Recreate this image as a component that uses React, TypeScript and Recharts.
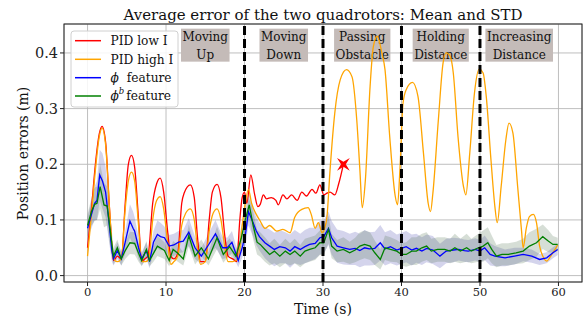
import React from "react";
import {
  ComposedChart,
  Line,
  Area,
  Scatter,
  XAxis,
  YAxis,
  CartesianGrid,
  ReferenceLine,
  ReferenceDot,
  Customized,
} from "recharts";

const FONT = '"DejaVu Serif", serif';

// [time (s), error (m)]
const PID_LOW_I: [number, number][] = [
  [0, 0.05], [0.5, 0.12], [1.0, 0.2], [1.5, 0.255], [1.85, 0.268], [2.3, 0.24], [2.8, 0.12],
  [3.3, 0.027], [3.8, 0.035], [4.3, 0.03], [4.8, 0.13], [5.2, 0.2], [5.6, 0.216], [6.0, 0.195],
  [6.5, 0.1], [6.9, 0.026], [7.3, 0.03], [7.7, 0.035], [8.3, 0.13], [8.8, 0.165], [9.25, 0.175],
  [9.7, 0.15], [10.2, 0.08], [10.6, 0.035], [11.0, 0.03], [11.5, 0.04], [12.0, 0.13], [12.3, 0.148],
  [13.1, 0.163], [13.6, 0.14], [14.0, 0.07], [14.4, 0.025], [15.0, 0.025], [15.5, 0.1], [15.9, 0.15],
  [16.5, 0.164], [17.0, 0.14], [17.5, 0.07], [17.9, 0.035], [18.5, 0.03], [19.0, 0.025], [19.4, 0.1],
  [19.7, 0.14], [20.0, 0.15], [20.3, 0.13], [20.8, 0.181], [21.3, 0.145], [21.7, 0.124], [22.0, 0.128],
  [22.4, 0.145], [22.8, 0.138], [23.4, 0.14], [24.0, 0.135], [24.3, 0.127], [24.9, 0.145], [25.4, 0.138],
  [26.0, 0.145], [26.7, 0.135], [27.3, 0.15], [27.9, 0.143], [28.6, 0.155], [29.1, 0.148], [29.6, 0.163],
  [30.1, 0.145], [30.5, 0.148], [30.9, 0.15], [31.5, 0.145], [32.0, 0.165], [32.6, 0.2],
];

const PID_HIGH_I: [number, number][] = [
  [0, 0.035], [0.5, 0.11], [1.0, 0.19], [1.5, 0.25], [1.85, 0.265], [2.3, 0.235], [2.8, 0.12],
  [3.3, 0.03], [3.8, 0.025], [4.3, 0.03], [4.8, 0.12], [5.2, 0.17], [5.6, 0.186], [6.0, 0.17],
  [6.5, 0.09], [6.9, 0.025], [7.4, 0.025], [7.8, 0.03], [8.3, 0.1], [8.8, 0.135], [9.25, 0.142],
  [9.7, 0.12], [10.2, 0.06], [10.6, 0.02], [11.0, 0.025], [11.5, 0.035], [12.0, 0.09], [12.5, 0.112],
  [13.1, 0.12], [13.6, 0.1], [14.0, 0.05], [14.4, 0.02], [15.0, 0.025], [15.5, 0.08], [16.0, 0.112],
  [16.5, 0.12], [17.0, 0.1], [17.5, 0.05], [17.9, 0.025], [18.5, 0.025], [19.2, 0.03], [19.7, 0.09],
  [20.0, 0.12], [20.5, 0.155], [20.9, 0.13], [21.5, 0.11], [22.0, 0.098], [22.6, 0.085], [23.2, 0.09],
  [24.1, 0.08], [24.9, 0.083], [25.8, 0.077], [26.4, 0.105], [27.3, 0.119], [28.1, 0.122], [28.5, 0.11],
  [29.0, 0.085], [29.4, 0.095], [29.9, 0.077], [30.2, 0.085], [30.5, 0.105], [30.9, 0.19], [31.5, 0.292],
  [32.2, 0.352], [33.0, 0.37], [33.7, 0.357], [34.3, 0.28], [34.7, 0.19], [35.0, 0.122], [35.4, 0.172],
  [36.0, 0.34], [36.4, 0.41], [36.9, 0.43], [37.5, 0.4], [37.9, 0.37], [38.5, 0.25], [39.2, 0.143],
  [39.5, 0.127], [39.8, 0.19], [40.2, 0.31], [40.6, 0.334], [41.4, 0.347], [42.1, 0.322], [42.8, 0.22],
  [43.4, 0.13], [43.7, 0.115], [44.0, 0.148], [44.7, 0.28], [45.3, 0.382], [45.7, 0.4], [46.2, 0.394],
  [46.6, 0.364], [47.2, 0.25], [47.9, 0.16], [48.2, 0.145], [48.7, 0.22], [49.3, 0.328], [49.9, 0.371],
  [50.4, 0.364], [50.8, 0.322], [51.4, 0.208], [51.9, 0.124], [52.2, 0.095], [52.7, 0.16], [53.3, 0.244],
  [53.7, 0.274], [54.2, 0.256], [54.8, 0.16], [55.3, 0.08], [55.5, 0.05], [55.9, 0.085], [56.3, 0.106],
  [56.8, 0.11], [57.2, 0.095], [57.6, 0.053], [58.0, 0.035], [58.5, 0.026], [59.1, 0.037], [59.9, 0.055],
];

// [time (s), mean (m), std (m)]
const PHI_FEATURE: [number, number, number][] = [
  [0, 0.085, 0.02], [0.5, 0.11, 0.025], [0.9, 0.13, 0.03], [1.2, 0.135, 0.035], [1.55, 0.181, 0.045],
  [1.9, 0.17, 0.05], [2.3, 0.15, 0.045], [2.7, 0.1, 0.035], [3.1, 0.045, 0.02], [3.3, 0.03, 0.012],
  [3.8, 0.045, 0.015], [4.3, 0.03, 0.012], [4.8, 0.06, 0.02], [5.4, 0.098, 0.03], [5.8, 0.085, 0.03],
  [6.0, 0.08, 0.025], [6.5, 0.05, 0.02], [6.9, 0.03, 0.012], [7.5, 0.045, 0.015], [7.9, 0.025, 0.012],
  [8.4, 0.06, 0.02], [8.9, 0.074, 0.025], [9.3, 0.07, 0.025], [9.8, 0.068, 0.02], [10.4, 0.053, 0.02],
  [11.0, 0.055, 0.02], [11.6, 0.06, 0.02], [12.2, 0.062, 0.02], [12.9, 0.078, 0.025], [13.7, 0.05, 0.02],
  [14.5, 0.035, 0.015], [15.4, 0.055, 0.02], [16.3, 0.075, 0.025], [17.2, 0.05, 0.02], [17.8, 0.05, 0.018],
  [18.4, 0.06, 0.02], [19.2, 0.027, 0.012], [19.7, 0.05, 0.018], [20.1, 0.072, 0.02], [20.5, 0.115, 0.025],
  [21.1, 0.095, 0.025], [21.5, 0.08, 0.025], [21.9, 0.07, 0.025], [22.6, 0.059, 0.028], [23.2, 0.053, 0.03],
  [23.8, 0.047, 0.03], [24.5, 0.052, 0.03], [25.2, 0.05, 0.028], [25.8, 0.044, 0.03], [26.4, 0.052, 0.03],
  [27.1, 0.047, 0.028], [27.7, 0.052, 0.03], [28.3, 0.056, 0.03], [29.0, 0.058, 0.028], [29.6, 0.068, 0.03],
  [30.1, 0.07, 0.03], [30.7, 0.085, 0.03], [31.1, 0.068, 0.03], [31.8, 0.053, 0.03], [32.6, 0.05, 0.03],
  [33.4, 0.047, 0.028], [34.1, 0.049, 0.03], [34.7, 0.045, 0.03], [35.3, 0.05, 0.032], [35.9, 0.048, 0.03],
  [36.6, 0.049, 0.03], [37.3, 0.059, 0.032], [37.9, 0.048, 0.03], [38.6, 0.052, 0.03], [39.4, 0.046, 0.028],
  [40.0, 0.049, 0.028], [40.6, 0.052, 0.028], [41.3, 0.046, 0.028], [41.9, 0.049, 0.026], [42.6, 0.044, 0.025],
  [43.2, 0.049, 0.025], [44.0, 0.046, 0.025], [44.9, 0.035, 0.022], [45.7, 0.044, 0.022], [46.6, 0.046, 0.022],
  [47.3, 0.047, 0.02], [48.0, 0.045, 0.02], [48.5, 0.044, 0.02], [49.4, 0.047, 0.02], [50.0, 0.044, 0.02],
  [50.6, 0.05, 0.022], [51.3, 0.038, 0.02], [51.9, 0.035, 0.018], [53.2, 0.032, 0.015], [54.4, 0.035, 0.015],
  [55.5, 0.038, 0.012], [56.6, 0.035, 0.012], [57.6, 0.029, 0.01], [58.5, 0.032, 0.01], [59.3, 0.041, 0.01],
  [59.9, 0.047, 0.01],
];

const PHI_B_FEATURE: [number, number, number][] = [
  [0, 0.09, 0.02], [0.5, 0.115, 0.025], [0.9, 0.128, 0.03], [1.2, 0.13, 0.03], [1.6, 0.16, 0.04],
  [2.1, 0.127, 0.04], [2.5, 0.125, 0.035], [2.9, 0.08, 0.03], [3.3, 0.035, 0.015], [3.8, 0.05, 0.015],
  [4.3, 0.03, 0.012], [4.8, 0.045, 0.015], [5.4, 0.059, 0.02], [6.0, 0.058, 0.02], [6.5, 0.04, 0.015],
  [6.9, 0.027, 0.01], [7.5, 0.047, 0.015], [7.9, 0.027, 0.01], [8.4, 0.04, 0.015], [8.9, 0.053, 0.018],
  [9.8, 0.045, 0.015], [10.4, 0.027, 0.01], [10.9, 0.047, 0.015], [11.5, 0.04, 0.015], [12.2, 0.03, 0.012],
  [12.9, 0.072, 0.02], [13.7, 0.035, 0.015], [14.5, 0.05, 0.015], [15.4, 0.03, 0.012], [16.5, 0.068, 0.02],
  [17.3, 0.038, 0.015], [18.1, 0.052, 0.015], [18.9, 0.035, 0.012], [19.6, 0.068, 0.02], [20.1, 0.1, 0.025],
  [20.6, 0.127, 0.025], [21.1, 0.09, 0.025], [21.6, 0.06, 0.022], [22.0, 0.056, 0.022], [22.6, 0.047, 0.022],
  [23.2, 0.038, 0.02], [23.8, 0.044, 0.022], [24.5, 0.035, 0.02], [25.2, 0.044, 0.022], [25.8, 0.038, 0.02],
  [26.4, 0.044, 0.022], [27.1, 0.035, 0.02], [27.7, 0.044, 0.022], [28.3, 0.047, 0.022], [29.0, 0.05, 0.022],
  [29.6, 0.059, 0.022], [30.1, 0.059, 0.022], [30.7, 0.083, 0.025], [31.1, 0.053, 0.022], [31.8, 0.044, 0.02],
  [32.6, 0.047, 0.022], [33.4, 0.041, 0.02], [34.1, 0.046, 0.022], [34.7, 0.053, 0.025], [35.3, 0.056, 0.025],
  [36.0, 0.053, 0.025], [36.6, 0.041, 0.022], [37.3, 0.029, 0.018], [37.9, 0.05, 0.022], [38.6, 0.047, 0.022],
  [39.4, 0.044, 0.02], [40.0, 0.038, 0.02], [40.6, 0.038, 0.022], [41.3, 0.044, 0.025], [41.9, 0.044, 0.025],
  [42.6, 0.05, 0.025], [43.2, 0.053, 0.025], [43.8, 0.044, 0.022], [44.6, 0.047, 0.022], [45.5, 0.047, 0.022],
  [46.2, 0.044, 0.022], [46.8, 0.05, 0.025], [47.5, 0.044, 0.022], [48.3, 0.05, 0.025], [48.9, 0.044, 0.022],
  [49.8, 0.05, 0.025], [50.4, 0.053, 0.028], [51.0, 0.059, 0.028], [51.5, 0.047, 0.025], [52.1, 0.035, 0.02],
  [52.8, 0.038, 0.02], [53.6, 0.038, 0.02], [54.6, 0.041, 0.02], [55.5, 0.044, 0.022], [56.3, 0.053, 0.025],
  [57.2, 0.059, 0.025], [58.0, 0.07, 0.022], [58.7, 0.062, 0.02], [59.3, 0.056, 0.015], [59.9, 0.056, 0.012],
];

// phase boundaries (s) and phase labels centred at time (s)
const PHASE_BOUNDS = [20, 30, 40, 50];
const PHASE_TIMES = [15, 25, 35, 45, 55];
const PHASE_LABELS = [
  ["Moving", "Up"],
  ["Moving", "Down"],
  ["Passing", "Obstacle"],
  ["Holding", "Distance"],
  ["Increasing", "Distance"],
];
const PHASE_LABEL_Y = 0.414;

// where PID low I crashes
const CRASH = [{ x: 32.6, y: 0.2 }];

const X_TICKS = [0, 10, 20, 30, 40, 50, 60];
const Y_TICKS = [0, 0.1, 0.2, 0.3, 0.4];

const SERIES_COLORS = ["#ff0000", "#ffa500", "#0000ff", "#008000"];

const toLine = (rows: number[][]) => rows.map(([x, y]) => ({ x, y }));
const toBand = (rows: number[][]) => rows.map(([x, m, s]) => ({ x, band: [m - s, m + s] }));

let ctx: CanvasRenderingContext2D | null = null;
const textWidth = (s: string, font: string) => {
  if (!ctx) ctx = document.createElement("canvas").getContext("2d");
  if (!ctx) return s.length * 7;
  ctx.font = font;
  return ctx.measureText(s).width;
};

const PhaseBox = (props: any) => {
  const { cx, cy, lines } = props;
  if (cx == null || cy == null) return null;
  const w = Math.max(...lines.map((l: string) => textWidth(l, `12px ${FONT}`))) + 3;
  return (
    <g>
      <rect x={cx - w / 2} y={cy - 16.5} width={w} height={33} fill="#c4bbb8" />
      <text x={cx} y={cy - 4.5} textAnchor="middle" fontFamily={FONT} fontSize={12} fill="#111">
        {lines[0]}
      </text>
      <text x={cx} y={cy + 13.5} textAnchor="middle" fontFamily={FONT} fontSize={12} fill="#111">
        {lines[1]}
      </text>
    </g>
  );
};

const CrashMark = (props: any) => {
  const { cx, cy } = props;
  if (cx == null || cy == null) return null;
  const pts: string[] = [];
  for (let i = 0; i < 8; i++) {
    const a = (i * Math.PI) / 4;
    const r = i % 2 === 0 ? 2.4 : 9;
    pts.push(`${cx + r * Math.cos(a)},${cy + r * Math.sin(a)}`);
  }
  return <polygon points={pts.join(" ")} fill="#ff0000" />;
};

const Decor = () => {
  const rowY = [40.7, 59.3, 77.7, 96];
  const tx = 110.5;
  return (
    <g>
      <rect x={64} y={24} width={518} height={258} fill="none" stroke="#222" strokeWidth={1} />
      <text x={323} y={19.5} textAnchor="middle" fontFamily={FONT} fontSize={15} fill="#111">
        Average error of the two quadrotors: Mean and STD
      </text>
      <text x={323} y={314} textAnchor="middle" fontFamily={FONT} fontSize={14} fill="#111">
        Time (s)
      </text>
      <text
        x={23}
        y={153.5}
        transform="rotate(-90 23 153.5)"
        textAnchor="middle"
        dominantBaseline="central"
        fontFamily={FONT}
        fontSize={14}
        fill="#111"
      >
        Position errors (m)
      </text>
      {/* legend */}
      <rect x={71} y={31} width={107} height={76} rx={3} fill="#fff" fillOpacity={0.85} stroke="#d0d0d0" />
      {SERIES_COLORS.map((c, i) => (
        <line key={c} x1={75} x2={101} y1={rowY[i]} y2={rowY[i]} stroke={c} strokeWidth={1.5} />
      ))}
      <text x={tx} y={rowY[0] + 4.3} fontFamily={FONT} fontSize={12.2} fill="#111">PID low I</text>
      <text x={tx} y={rowY[1] + 4.3} fontFamily={FONT} fontSize={12.2} fill="#111">PID high I</text>
      <text x={tx} y={rowY[2] + 4.3} fontFamily={FONT} fontSize={12.2} fill="#111">
        <tspan fontStyle="italic">ϕ</tspan>
        <tspan dx={8}>feature</tspan>
      </text>
      <text x={tx} y={rowY[3] + 4.3} fontFamily={FONT} fontSize={12.2} fill="#111">
        <tspan fontStyle="italic">ϕ</tspan>
        <tspan fontStyle="italic" fontSize={8.5} dy={-6}>b</tspan>
        <tspan dx={2} dy={6}>feature</tspan>
      </text>
    </g>
  );
};

export default function App() {
  return (
    <div style={{ position: "absolute", left: 0, top: 0, width: 583, height: 320, background: "#fff" }}>
      <ComposedChart width={583} height={320} margin={{ top: 24, right: 1, bottom: 8, left: 8 }}>
        <CartesianGrid stroke="#b8b8b8" strokeWidth={0.9} />
        <XAxis
          dataKey="x"
          type="number"
          domain={[-3, 63]}
          ticks={X_TICKS}
          allowDataOverflow
          height={30}
          axisLine={false}
          tickSize={4}
          tickMargin={2}
          tickLine={{ stroke: "#222" }}
          tick={{ fontFamily: FONT, fontSize: 11.5, fill: "#222" }}
        />
        <YAxis
          type="number"
          domain={[-0.0115, 0.452]}
          ticks={Y_TICKS}
          allowDataOverflow
          width={56}
          axisLine={false}
          tickSize={4}
          tickMargin={2}
          tickLine={{ stroke: "#222" }}
          tickFormatter={(v: number) => v.toFixed(1)}
          tick={{ fontFamily: FONT, fontSize: 14.5, fill: "#222" }}
        />
        {PHASE_TIMES.map((t, i) => (
          <ReferenceDot
            key={t}
            x={t}
            y={PHASE_LABEL_Y}
            r={0}
            ifOverflow="visible"
            zIndex={50}
            shape={(p: any) => <PhaseBox {...p} lines={PHASE_LABELS[i]} />}
          />
        ))}
        <Area
          data={toBand(PHI_FEATURE)}
          dataKey="band"
          type="linear"
          stroke="none"
          fill="#3c3ca8"
          fillOpacity={0.22}
          legendType="none"
          isAnimationActive={false}
        />
        <Area
          data={toBand(PHI_B_FEATURE)}
          dataKey="band"
          type="linear"
          stroke="none"
          fill="#557755"
          fillOpacity={0.24}
          legendType="none"
          isAnimationActive={false}
        />
        <Line data={toLine(PID_LOW_I)} dataKey="y" name="PID low I" type="monotone" stroke="#ff0000" strokeWidth={1.3} dot={false} isAnimationActive={false} />
        <Line data={toLine(PID_HIGH_I)} dataKey="y" name="PID high I" type="monotone" stroke="#ffa500" strokeWidth={1.3} dot={false} isAnimationActive={false} />
        <Line data={toLine(PHI_FEATURE)} dataKey="y" name="phi feature" type="linear" stroke="#0000ff" strokeWidth={1.3} dot={false} isAnimationActive={false} />
        <Line data={toLine(PHI_B_FEATURE)} dataKey="y" name="phi b feature" type="linear" stroke="#008000" strokeWidth={1.3} dot={false} isAnimationActive={false} />
        <Scatter data={CRASH} dataKey="y" shape={CrashMark} legendType="none" isAnimationActive={false} />
        {PHASE_BOUNDS.map((b) => (
          <ReferenceLine key={b} x={b} stroke="#000" strokeWidth={3} strokeDasharray="9 4" />
        ))}
        <Customized component={Decor} />
      </ComposedChart>
    </div>
  );
}
